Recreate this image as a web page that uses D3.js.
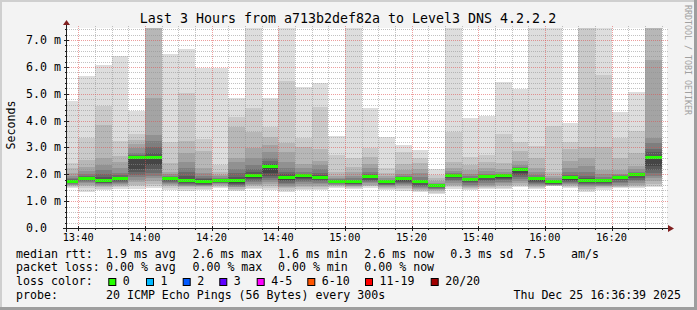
<!DOCTYPE html>
<html><head><meta charset="utf-8">
<script src="https://cdn.jsdelivr.net/npm/d3@7/dist/d3.min.js"></script>
<style>
body{margin:0;background:#fff}
svg{display:block}
text{font-family:"DejaVu Sans Mono",monospace;white-space:pre;fill:#000}
</style>
</head><body><svg id="c" width="697" height="310"></svg>
<script>
// ---------- DATA ----------
const title = "Last 3 Hours from a713b2def82a to Level3 DNS 4.2.2.2";
const barEnds = ["13:40","13:45","13:50","13:55","14:00","14:05","14:10","14:15","14:20","14:25","14:30","14:35",
  "14:40","14:45","14:50","14:55","15:00","15:05","15:10","15:15","15:20","15:25","15:30","15:35",
  "15:40","15:45","15:50","15:55","16:00","16:05","16:10","16:15","16:20","16:25","16:30","16:35"];
const medians = [1.73,1.84,1.76,1.81,2.60,2.62,1.83,1.75,1.71,1.76,1.75,1.95,2.29,1.88,1.93,1.87,1.72,1.70,
  1.90,1.72,1.81,1.70,1.56,1.95,1.79,1.91,1.93,2.16,1.81,1.70,1.85,1.76,1.74,1.87,1.97,2.62];
// 20 sorted ping RTTs (ms) per 5-minute step
const pings = [
 [1.50,1.54,1.57,1.60,1.62,1.64,1.66,1.68,1.70,1.72,1.74,1.76,1.79,1.83,1.88,1.95,2.05,2.22,2.41,4.73],
 [1.35,1.48,1.57,1.62,1.66,1.70,1.74,1.77,1.80,1.83,1.85,1.87,1.90,1.95,2.02,2.12,2.29,2.53,3.34,5.66],
 [1.40,1.47,1.52,1.56,1.60,1.63,1.66,1.69,1.72,1.75,1.78,1.82,1.90,2.02,2.15,2.35,2.60,3.84,4.54,6.07],
 [1.46,1.52,1.57,1.61,1.65,1.68,1.71,1.74,1.77,1.80,1.83,1.85,1.90,1.96,2.06,2.25,2.45,2.68,3.24,6.42],
 [1.45,1.55,1.62,1.70,1.80,1.90,1.98,2.08,2.20,2.59,2.61,2.63,2.66,2.72,2.80,2.97,3.12,3.28,3.49,4.36],
 [1.50,1.57,1.65,1.75,1.85,1.95,2.05,2.18,2.35,2.60,2.63,2.66,2.80,3.00,3.25,3.46,4.83,7.90,8.80,9.50],
 [1.40,1.48,1.55,1.60,1.64,1.68,1.72,1.75,1.79,1.82,1.84,1.85,1.87,1.90,1.94,2.00,2.10,2.41,3.19,6.50],
 [1.38,1.46,1.51,1.55,1.58,1.61,1.64,1.67,1.70,1.73,1.77,1.82,1.95,2.10,2.25,2.47,2.81,3.24,5.02,6.67],
 [1.42,1.47,1.51,1.55,1.58,1.60,1.62,1.64,1.67,1.70,1.73,1.76,1.82,1.88,1.95,2.05,2.22,2.87,3.32,5.97],
 [1.48,1.52,1.56,1.60,1.63,1.66,1.69,1.71,1.73,1.75,1.77,1.79,1.81,1.84,1.88,1.92,1.98,2.10,2.35,5.97],
 [1.38,1.43,1.47,1.51,1.54,1.57,1.60,1.64,1.68,1.73,1.76,1.80,1.90,2.05,2.20,2.45,2.60,3.78,4.12,4.83],
 [1.45,1.50,1.55,1.60,1.65,1.70,1.76,1.82,1.88,1.93,1.96,2.00,2.08,2.20,2.35,2.60,2.97,3.59,4.46,8.50],
 [1.42,1.50,1.58,1.65,1.72,1.78,1.85,1.95,2.05,2.27,2.30,2.33,2.40,2.48,2.62,2.84,3.10,3.40,3.78,4.83],
 [1.35,1.42,1.48,1.53,1.58,1.63,1.68,1.74,1.80,1.86,1.89,1.93,2.00,2.10,2.25,2.47,2.84,3.15,5.48,8.00],
 [1.40,1.46,1.52,1.58,1.64,1.70,1.76,1.82,1.88,1.92,1.94,1.96,1.99,2.03,2.10,2.22,2.40,3.00,3.34,5.27],
 [1.40,1.45,1.51,1.57,1.63,1.68,1.74,1.79,1.84,1.86,1.88,1.93,1.98,2.06,2.18,2.35,2.50,2.94,4.52,5.41],
 [1.48,1.52,1.56,1.59,1.62,1.64,1.66,1.68,1.70,1.72,1.74,1.75,1.77,1.79,1.82,1.87,1.95,2.10,2.72,3.43],
 [1.44,1.48,1.52,1.55,1.58,1.61,1.63,1.65,1.67,1.69,1.71,1.73,1.75,1.79,1.85,1.95,2.10,2.29,2.60,8.00],
 [1.50,1.55,1.58,1.62,1.66,1.70,1.75,1.80,1.85,1.89,1.91,1.92,1.95,2.00,2.08,2.22,2.40,2.66,2.97,4.48],
 [1.42,1.46,1.50,1.54,1.57,1.60,1.62,1.65,1.68,1.71,1.73,1.74,1.75,1.77,1.80,1.85,1.92,2.05,2.25,3.40],
 [1.39,1.45,1.50,1.55,1.60,1.64,1.68,1.72,1.76,1.80,1.82,1.83,1.85,1.88,1.92,2.00,2.15,2.40,2.84,3.09],
 [1.35,1.38,1.42,1.46,1.50,1.54,1.58,1.62,1.66,1.69,1.71,1.72,1.75,1.80,1.90,2.05,2.20,2.42,2.60,2.90],
 [1.27,1.32,1.37,1.41,1.44,1.47,1.50,1.52,1.54,1.56,1.57,1.58,1.59,1.60,1.63,1.68,1.75,1.85,1.98,2.18],
 [1.47,1.52,1.57,1.62,1.68,1.74,1.80,1.85,1.90,1.94,1.96,1.97,1.99,2.02,2.06,2.12,2.22,2.45,3.59,8.50],
 [1.42,1.46,1.50,1.54,1.58,1.62,1.66,1.70,1.74,1.78,1.80,1.81,1.83,1.87,1.93,2.02,2.15,2.35,2.66,4.11],
 [1.46,1.50,1.53,1.57,1.62,1.68,1.74,1.80,1.86,1.90,1.92,1.93,1.95,1.98,2.03,2.12,2.25,2.47,2.72,4.18],
 [1.44,1.50,1.55,1.60,1.66,1.72,1.78,1.83,1.88,1.92,1.94,1.95,1.96,1.99,2.03,2.10,2.20,2.41,3.49,5.43],
 [1.52,1.57,1.62,1.68,1.75,1.82,1.90,1.98,2.05,2.15,2.16,2.17,2.19,2.22,2.27,2.35,2.50,2.87,3.22,5.18],
 [1.45,1.48,1.52,1.56,1.60,1.64,1.68,1.72,1.76,1.80,1.82,1.83,1.85,1.90,1.98,2.10,2.25,2.60,3.07,8.00],
 [1.55,1.57,1.58,1.59,1.60,1.62,1.63,1.65,1.67,1.69,1.71,1.72,1.73,1.76,1.80,1.86,1.95,2.10,3.81,8.00],
 [1.50,1.54,1.57,1.60,1.64,1.68,1.72,1.76,1.80,1.84,1.86,1.88,1.92,1.98,2.10,2.25,2.50,2.94,3.19,3.92],
 [1.35,1.42,1.47,1.52,1.56,1.60,1.64,1.68,1.72,1.75,1.77,1.80,1.85,1.95,2.10,2.30,2.60,3.03,8.00,9.00],
 [1.43,1.48,1.52,1.55,1.58,1.61,1.64,1.67,1.70,1.73,1.75,1.76,1.78,1.83,1.90,2.00,2.16,3.03,5.70,8.00],
 [1.48,1.51,1.54,1.58,1.62,1.67,1.72,1.77,1.82,1.86,1.88,1.89,1.91,1.93,1.96,2.02,2.15,2.62,3.37,4.31],
 [1.50,1.54,1.57,1.62,1.68,1.74,1.80,1.86,1.92,1.96,1.98,1.99,2.00,2.03,2.08,2.18,2.30,2.81,3.61,5.05],
 [1.52,1.58,1.65,1.75,1.85,1.95,2.05,2.15,2.30,2.60,2.64,2.70,2.82,2.95,3.15,3.34,6.26,8.00,9.00,10.0]
];
const yTicks = [0,1,2,3,4,5,6,7];
const yTickLabels = ["0.0","1.0 m","2.0 m","3.0 m","4.0 m","5.0 m","6.0 m","7.0 m"];
const rttStats = ["1.9 ms avg","2.6 ms max","1.6 ms min","2.6 ms now","0.3 ms sd","7.5"];
const lossStats = ["0.00 % avg","0.00 % max","0.00 % min","0.00 % now"];
const lossLabels = ["0","1","2","3","4-5","6-10","11-19","20/20"];
const lossColors = ["#26ff00","#00b8ff","#0059ff","#5e00ff","#ff00ff","#ff5500","#ff0000","#a10000"];
const probeText = "20 ICMP Echo Pings (56 Bytes) every 300s";
const dateText = "Thu Dec 25 16:36:39 2025";
const watermark = "RRDTOOL / TOBI OETIKER";

// ---------- LAYOUT ----------
const W = 697, H = 310;
const L = 67, R = 667, T = 28, B = 228;
const day = (hm) => { const [h, m] = hm.split(":").map(Number); return new Date(Date.UTC(2025, 11, 25, h, m, 0)); };
const tStart = new Date(Date.UTC(2025, 11, 25, 13, 36, 39));
const tEnd = new Date(Date.UTC(2025, 11, 25, 16, 36, 39));
const x = d3.scaleUtc().domain([tStart, tEnd]).range([L, R]);
const y = d3.scaleLinear().domain([0, 7.45]).range([B, T]);

const svg = d3.select("#c");

// background + 3D frame
svg.append("rect").attr("width", W).attr("height", H).attr("fill", "#f3f3f3");
svg.append("path").attr("d", `M0,0H${W}V2H2V${H}H0Z`).attr("fill", "#cfcfcf");
svg.append("path").attr("d", `M${W},${H}H0V${H-3}H${W-3}V0H${W}Z`).attr("fill", "#9e9e9e");

// canvas
svg.append("rect").attr("x", L).attr("y", T).attr("width", R - L).attr("height", B - T).attr("fill", "#fff");

svg.append("clipPath").attr("id", "clip").append("rect")
  .attr("x", L).attr("y", T).attr("width", R - L).attr("height", B - T);
const plot = svg.append("g").attr("clip-path", "url(#clip)").attr("shape-rendering", "crispEdges");

const x0 = (i) => Math.round(x(d3.utcMinute.offset(day(barEnds[i]), -5)));
const x1 = (i) => Math.round(x(day(barEnds[i])));

// smoke bands
const half = 10;
for (let b = 0; b < half; b++) {
  const ibot = b + 1;
  const c = Math.floor(190 / half * (half - ibot)) + 50;
  const col = d3.rgb(c, c, c).formatHex();
  plot.append("g").selectAll("rect").data(pings).join("rect")
    .attr("x", (d, i) => x0(i))
    .attr("width", (d, i) => x1(i) - x0(i))
    .attr("y", d => Math.round(y(d[19 - b])))
    .attr("height", d => Math.max(1, Math.round(y(d[b])) - Math.round(y(d[19 - b]))))
    .attr("fill", col);
}
// median (loss colour 0)
plot.append("g").selectAll("rect").data(medians).join("rect")
  .attr("x", (d, i) => x0(i))
  .attr("width", (d, i) => x1(i) - x0(i))
  .attr("y", d => Math.round(y(d)) - 2)
  .attr("height", 3)
  .attr("fill", lossColors[0]);

// grid on top
const grid = svg.append("g").attr("shape-rendering", "crispEdges").attr("stroke-dasharray", "1,1");
const minorT = x.ticks(d3.utcMinute.every(5)).filter(t => t.getUTCMinutes() % 20 !== 0);
const majorT = x.ticks(d3.utcMinute.every(20));
grid.selectAll(".vm").data(minorT).join("line")
  .attr("x1", d => Math.round(x(d)) + 0.5).attr("x2", d => Math.round(x(d)) + 0.5)
  .attr("y1", T - 2).attr("y2", B).attr("stroke", "rgba(143,143,143,0.55)");
const minorY = d3.range(1, 38).map(k => k * 0.2).filter(v => Math.abs(v - Math.round(v)) > 0.01);
grid.selectAll(".hm").data(minorY).join("line")
  .attr("y1", d => Math.round(y(d)) + 0.5).attr("y2", d => Math.round(y(d)) + 0.5)
  .attr("x1", L).attr("x2", R + 1).attr("stroke", "rgba(143,143,143,0.55)");
grid.selectAll(".vM").data(majorT).join("line")
  .attr("x1", d => Math.round(x(d)) + 0.5).attr("x2", d => Math.round(x(d)) + 0.5)
  .attr("y1", T - 2).attr("y2", B).attr("stroke", "rgba(222,79,79,0.55)");
grid.selectAll(".hM").data(yTicks.slice(1)).join("line")
  .attr("y1", d => Math.round(y(d)) + 0.5).attr("y2", d => Math.round(y(d)) + 0.5)
  .attr("x1", L).attr("x2", R + 1).attr("stroke", "rgba(222,79,79,0.55)");

// axes
const ax = svg.append("g").attr("shape-rendering", "crispEdges").attr("stroke", "#1f1f1f");
ax.selectAll(".tx").data(minorT).join("line")
  .attr("x1", d => Math.round(x(d)) + 0.5).attr("x2", d => Math.round(x(d)) + 0.5)
  .attr("y1", B).attr("y2", B + 2);
ax.selectAll(".tX").data(majorT).join("line")
  .attr("x1", d => Math.round(x(d)) + 0.5).attr("x2", d => Math.round(x(d)) + 0.5)
  .attr("y1", B - 2).attr("y2", B + 3);
ax.selectAll(".ty").data(minorY).join("line")
  .attr("y1", d => Math.round(y(d)) + 0.5).attr("y2", d => Math.round(y(d)) + 0.5)
  .attr("x1", L - 2).attr("x2", L);
ax.selectAll(".tY").data(yTicks.slice(1)).join("line")
  .attr("y1", d => Math.round(y(d)) + 0.5).attr("y2", d => Math.round(y(d)) + 0.5)
  .attr("x1", L - 3).attr("x2", L + 2);
ax.append("line").attr("x1", L - 4).attr("x2", R + 4).attr("y1", B + 0.5).attr("y2", B + 0.5);
ax.append("line").attr("x1", L - 0.5).attr("x2", L - 0.5).attr("y1", B + 4).attr("y2", T - 4);
svg.append("path").attr("d", `M${R + 1},${B - 3}L${R + 7},${B + 0.5}L${R + 1},${B + 4}Z`).attr("fill", "#801f1f");
svg.append("path").attr("d", `M${L - 4},${T - 3}L${L - 0.5},${T - 8}L${L + 3},${T - 3}Z`).attr("fill", "#801f1f");

// tick labels
svg.append("g").selectAll("text").data(majorT).join("text")
  .attr("x", d => x(d)).attr("y", 241).attr("text-anchor", "middle")
  .style("font-size", "10.3px").text(d3.utcFormat("%H:%M"));
svg.append("g").selectAll("text").data(yTicks).join("text")
  .attr("x", 26).attr("y", d => y(d) + 4)
  .style("font-size", "11.6px").text((d, i) => yTickLabels[i]);

// title, y-axis title, watermark
svg.append("text").attr("x", 348).attr("y", 23).attr("text-anchor", "middle")
  .style("font-size", "13.3px").text(title);
svg.append("text").attr("transform", "translate(15,125) rotate(-90)").attr("text-anchor", "middle")
  .style("font-size", "11.6px").text("Seconds");
svg.append("text").attr("transform", "translate(684.5,5) rotate(90)")
  .style("font-size", "8.3px").style("fill", "#a0a0a0").text(watermark);

// legend
const fs = "11.6px";
const leg = svg.append("g").style("font-size", fs);
leg.append("text").attr("x", 16).attr("y", 257.5).text("median rtt:");
const rttX = [106, 192.5, 278, 364.3, 450.3, 524.5];
rttStats.forEach((s, i) => leg.append("text").attr("x", rttX[i]).attr("y", 257.5).text(s));
leg.append("text").attr("x", 571).attr("y", 257.5).text("am/s");
leg.append("text").attr("x", 16).attr("y", 271.3).text("packet loss:");
lossStats.forEach((s, i) => leg.append("text").attr("x", rttX[i]).attr("y", 271.3).text(s));
leg.append("text").attr("x", 16).attr("y", 285).text("loss color:");
const boxX = [108.3, 146, 182.7, 219.3, 256.7, 307.3, 365, 430.7];
lossLabels.forEach((s, i) => {
  leg.append("rect").attr("x", boxX[i] + 0.5).attr("y", 278.5).attr("width", 7).attr("height", 7)
    .attr("fill", lossColors[i]).attr("stroke", "#000").attr("stroke-width", 1);
  leg.append("text").attr("x", boxX[i] + 14.5).attr("y", 285).text(s);
});
leg.append("text").attr("x", 16).attr("y", 299).text("probe:");
leg.append("text").attr("x", 106).attr("y", 299).text(probeText);
leg.append("text").attr("x", 681).attr("y", 299).attr("text-anchor", "end").text(dateText);
</script>
</body></html>
